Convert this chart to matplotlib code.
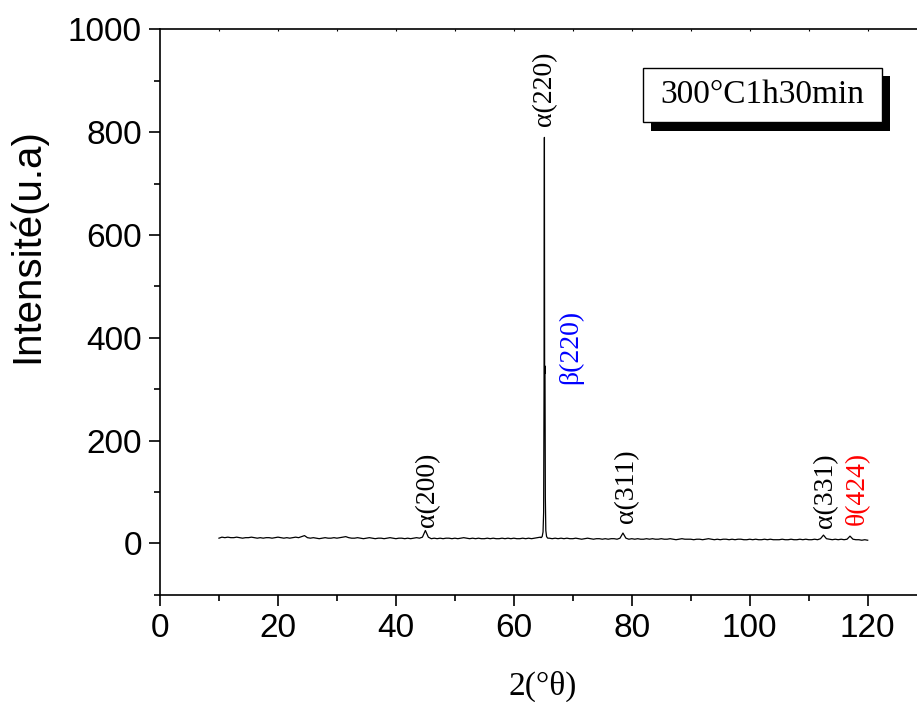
import numpy as np
import matplotlib
matplotlib.use("Agg")
import matplotlib.pyplot as plt
from matplotlib.patches import Rectangle

# Baseline scan, 2θ from 10° to 120° in 0.5° steps (10 values per 5° row)
theta_step = 0.5
theta_start = 10.0
baseline = [
    10, 12, 11, 12, 11, 11, 12, 11, 10, 11,   # 10.0 - 14.5
    11, 12, 11, 10, 11, 10, 11, 11, 10, 11,   # 15.0 - 19.5
    12, 11, 10, 11, 10, 11, 12, 11, 13, 15,   # 20.0 - 24.5
    11, 10, 11, 10, 9, 10, 11, 10, 10, 11,    # 25.0 - 29.5
    10, 11, 12, 13, 11, 10, 10, 11, 10, 9,    # 30.0 - 34.5
    10, 11, 10, 9, 10, 10, 9, 10, 11, 10,     # 35.0 - 39.5
    9, 10, 10, 9, 10, 9, 10, 11, 10, 12,      # 40.0 - 44.5
    25, 12, 9, 10, 9, 10, 9, 10, 10, 9,       # 45.0 - 49.5
    10, 9, 10, 11, 10, 9, 10, 9, 10, 9,       # 50.0 - 54.5
    9, 10, 9, 10, 9, 9, 10, 9, 10, 9,         # 55.0 - 59.5
    10, 9, 9, 10, 9, 10, 9, 10, 11, 12,       # 60.0 - 64.5
    10, 11, 10, 9, 10, 9, 10, 9, 10, 9,       # 65.0 - 69.5
    9, 10, 9, 8, 9, 10, 9, 8, 9, 9,           # 70.0 - 74.5
    8, 9, 8, 9, 9, 8, 10, 20, 10, 8,          # 75.0 - 79.5
    9, 8, 9, 8, 8, 9, 8, 9, 8, 8,             # 80.0 - 84.5
    9, 8, 8, 9, 8, 7, 8, 9, 8, 8,             # 85.0 - 89.5
    8, 7, 8, 8, 7, 8, 9, 8, 7, 8,             # 90.0 - 94.5
    7, 8, 8, 7, 8, 7, 8, 8, 7, 7,             # 95.0 - 99.5
    8, 7, 8, 7, 7, 8, 7, 8, 7, 7,             # 100.0 - 104.5
    7, 8, 7, 7, 8, 7, 7, 8, 7, 8,             # 105.0 - 109.5
    7, 7, 8, 7, 9, 16, 9, 8, 7, 8,            # 110.0 - 114.5
    7, 8, 7, 8, 14, 8, 7, 7, 6, 7,            # 115.0 - 119.5
    6,                                        # 120.0
]

# Main α(220)/β(220) reflection, finely sampled
theta_main = [64.6, 64.8, 64.95, 65.05, 65.12, 65.18, 65.22, 65.28, 65.34, 65.42, 65.55, 65.75]
intensity_main = [11, 13, 22, 60, 300, 790, 330, 345, 90, 25, 13, 10]

# Peak annotations: text, position (2θ), intensity at label foot, colour
peak_labels = ["α(200)", "α(220)", "β(220)", "α(311)", "α(331)", "θ(424)"]
peak_theta = [45.4, 65.3, 69.6, 79.2, 112.9, 118.3]
peak_height = [31, 812, 311, 40, 30, 35]
peak_colors = ["black", "black", "blue", "black", "black", "red"]

sample_label = "300°C1h30min"

theta_base = theta_start + theta_step * np.arange(len(baseline))
base = np.array(baseline, dtype=float)
keep = (theta_base < 64.6) | (theta_base > 65.75)
theta = np.concatenate([theta_base[keep], theta_main])
inten = np.concatenate([base[keep], intensity_main])
order = np.argsort(theta)
theta, inten = theta[order], inten[order]

serif = "Liberation Serif"
sans = "Liberation Sans"

fig = plt.figure(figsize=(9.17, 7.02), dpi=100)
ax = fig.add_axes([0.17448, 0.15285, 0.82552, 0.80513])

ax.plot(theta, inten, color="black", lw=0.9)

ax.set_xlim(0, 128.36)
ax.set_ylim(-100, 1000)
ax.set_xticks(np.arange(0, 121, 20))
ax.set_xticks(np.arange(10, 121, 20), minor=True)
ax.set_yticks(np.arange(0, 1001, 200))
ax.set_yticks(np.arange(-100, 1001, 100), minor=True)

ax.spines["right"].set_visible(False)
for s in ("left", "bottom", "top"):
    ax.spines[s].set_linewidth(1.2)

ax.tick_params(which="major", direction="out", length=8, width=1.2,
               labelsize=24, pad=5)
ax.tick_params(which="minor", direction="out", length=4.5, width=1.2)
for lab in ax.get_xticklabels() + ax.get_yticklabels():
    lab.set_fontfamily(sans)

# faint ticks along the top frame
top = ax.secondary_xaxis("top")
top.set_xticks(np.arange(10, 121, 10))
top.tick_params(direction="in", length=1.5, width=0.8, labeltop=False)
top.spines["top"].set_visible(False)

ax.set_ylabel("Intensité(u.a)", fontsize=29, fontfamily=sans)
ax.yaxis.label.set_verticalalignment("center")
ax.yaxis.set_label_coords(-0.176, 0.617)

ax.set_xlabel("2(°θ)", fontsize=24, fontfamily=serif)
ax.xaxis.label.set_verticalalignment("center")
ax.xaxis.set_label_coords(0.506, -0.163)

for txt, x, y, c in zip(peak_labels, peak_theta, peak_height, peak_colors):
    ax.text(x, y, txt, rotation=90, ha="center", va="bottom",
            fontsize=20, fontfamily=serif, color=c)

# sample box with drop shadow
ax.add_patch(Rectangle((0.6486, 0.8203), 0.3157, 0.0974, transform=ax.transAxes,
                       facecolor="black", edgecolor="none", zorder=5))
ax.add_patch(Rectangle((0.638, 0.8363), 0.3158, 0.0956, transform=ax.transAxes,
                       facecolor="white", edgecolor="black", lw=1.0, zorder=6))
ax.text(0.638 + 0.3158 / 2, 0.8363 + 0.0956 / 2, sample_label, transform=ax.transAxes,
        ha="center", va="center", fontsize=24, fontfamily=serif, zorder=7)

fig.savefig("out.png", dpi=100)
